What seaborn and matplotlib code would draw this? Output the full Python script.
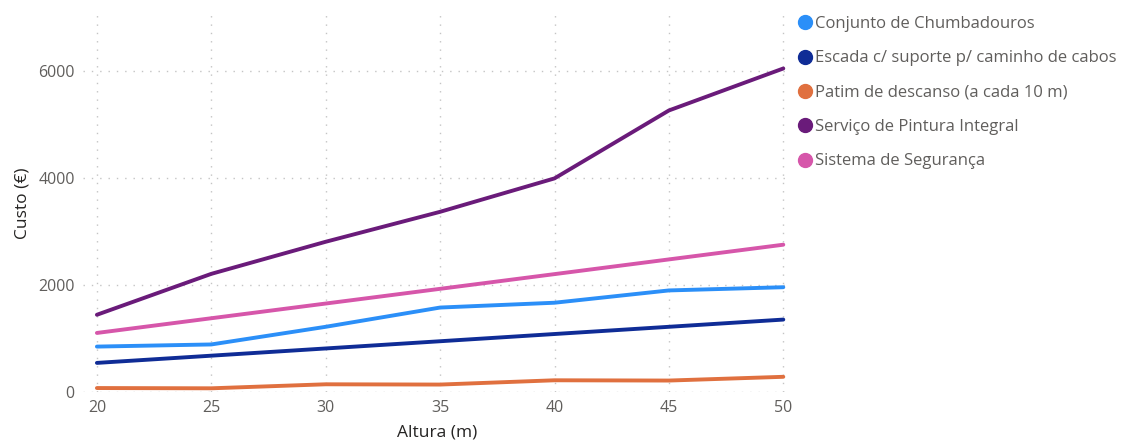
'''
Custo por altura - line chart with seaborn
'''
import matplotlib
matplotlib.use('Agg')
import matplotlib.pyplot as plt
import seaborn as sns
import pandas as pd
from matplotlib.lines import Line2D

# data
alturas = [20, 25, 30, 35, 40, 45, 50]
chumbadouros = [850, 890, 1220, 1580, 1670, 1900, 1960]
escada = [545, 680, 815, 950, 1085, 1220, 1355]
patim = [75, 70, 145, 140, 220, 215, 285]
pintura = [1445, 2210, 2810, 3370, 3995, 5265, 6050]
seguranca = [1105, 1380, 1655, 1930, 2205, 2480, 2755]

series_names = ['Conjunto de Chumbadouros',
                'Escada c/ suporte p/ caminho de cabos',
                'Patim de descanso (a cada 10 m)',
                'Serviço de Pintura Integral',
                'Sistema de Segurança']
series_values = [chumbadouros, escada, patim, pintura, seguranca]
colors = ['#2B8FF8', '#0F2C96', '#E0703F', '#6A1B7A', '#D656AA']

rows = []
for name, vals in zip(series_names, series_values):
    for x, v in zip(alturas, vals):
        rows.append({'Altura (m)': x, 'Custo (€)': v, 'Serie': name})
df = pd.DataFrame(rows)

sns.set_style('white')
plt.rcParams['font.family'] = ['Open Sans', 'DejaVu Sans']

fig = plt.figure(figsize=(11.24, 4.41), dpi=100)
ax = fig.add_axes([0.074, 0.111, 0.629, 0.855])

sns.lineplot(data=df, x='Altura (m)', y='Custo (€)', hue='Serie',
             hue_order=series_names, palette=colors, linewidth=2.8,
             legend=False, ax=ax)

ax.set_xlim(19.4, 50.3)
ax.set_ylim(0, 7050)
ax.set_xticks(alturas)
ax.set_yticks([0, 2000, 4000, 6000])
ax.grid(True, linestyle=(0, (1, 5)), color='#C4C4C4', linewidth=1)
for s in ax.spines.values():
    s.set_visible(False)
ax.tick_params(axis='both', length=0, labelsize=11.5, labelcolor='#605E5C', pad=6)
ax.set_xlabel('Altura (m)', fontsize=12.5, color='#252423', labelpad=6)
ax.set_ylabel('Custo (€)', fontsize=12.5, color='#252423', labelpad=6)

# legend on the right
handles = [Line2D([0], [0], marker='o', linestyle='', markersize=10,
                  markerfacecolor=c, markeredgecolor=c) for c in colors]
fig.legend(handles, series_names, loc='upper left',
           bbox_to_anchor=(0.697, 0.99), frameon=False, fontsize=12,
           labelcolor='#605E5C', handletextpad=0.0, labelspacing=1.1,
           handlelength=1.2, borderaxespad=0.3)

fig.savefig('out.png', dpi=100)
